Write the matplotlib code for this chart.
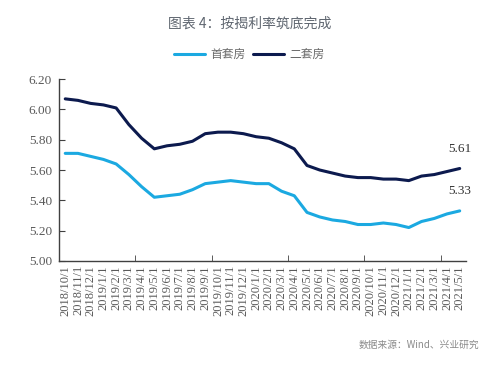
import numpy as np
from matplotlib import pyplot as plt

plt.rcParams['font.family'] = ['Liberation Serif', 'Noto Sans CJK SC', 'DejaVu Sans']

DATES = ["2018/10/1", "2018/11/1", "2018/12/1",
         "2019/1/1", "2019/2/1", "2019/3/1", "2019/4/1", "2019/5/1", "2019/6/1",
         "2019/7/1", "2019/8/1", "2019/9/1", "2019/10/1", "2019/11/1", "2019/12/1",
         "2020/1/1", "2020/2/1", "2020/3/1", "2020/4/1", "2020/5/1", "2020/6/1",
         "2020/7/1", "2020/8/1", "2020/9/1", "2020/10/1", "2020/11/1", "2020/12/1",
         "2021/1/1", "2021/2/1", "2021/3/1", "2021/4/1", "2021/5/1"]

# 首套房
first_home = [5.71, 5.71, 5.69, 5.67, 5.64, 5.57, 5.49, 5.42, 5.43,
              5.44, 5.47, 5.51, 5.52, 5.53, 5.52,
              5.51, 5.51, 5.46, 5.43, 5.32, 5.29,
              5.27, 5.26, 5.24, 5.24, 5.25, 5.24,
              5.22, 5.26, 5.28, 5.31, 5.33]

# 二套房
second_home = [6.07, 6.06, 6.04, 6.03, 6.01, 5.90, 5.81, 5.74, 5.76,
               5.77, 5.79, 5.84, 5.85, 5.85, 5.84,
               5.82, 5.81, 5.78, 5.74, 5.63, 5.60,
               5.58, 5.56, 5.55, 5.55, 5.54, 5.54,
               5.53, 5.56, 5.57, 5.59, 5.61]

LIGHT = "#1ba9e1"
DARK = "#0c1a4e"
GRAY = "#595959"

fig = plt.figure(figsize=(4.99, 3.70), dpi=100)
ax = fig.add_axes([0.118, 0.295, 0.816, 0.491])

x = np.arange(len(DATES))
l1, = ax.plot(x, first_home, color=LIGHT, lw=2.2, solid_capstyle="round")
l2, = ax.plot(x, second_home, color=DARK, lw=2.2, solid_capstyle="round")

ax.set_xlim(-0.5, len(DATES) - 0.5)
ax.set_ylim(5.0, 6.2)
ax.set_yticks(np.arange(5.0, 6.21, 0.2))
ax.set_yticklabels(["%.2f" % v for v in np.arange(5.0, 6.21, 0.2)])

ax.set_xticks(x)
ax.set_xticklabels(DATES, rotation=90)
ax.set_xticks(np.arange(5.5, len(DATES) - 1, 6), minor=True)
ax.tick_params(axis="x", which="major", length=0, pad=3, labelsize=9, labelcolor=GRAY)
ax.tick_params(axis="x", which="minor", direction="in", length=4, color="#404040")
ax.tick_params(axis="y", direction="in", length=4, color="#404040", labelsize=9.5,
               labelcolor=GRAY, pad=5)

for s in ["top", "right"]:
    ax.spines[s].set_visible(False)
for s in ["left", "bottom"]:
    ax.spines[s].set_color("#404040")
    ax.spines[s].set_linewidth(1.0)

ax.annotate("%.2f" % second_home[-1], (x[-1], second_home[-1]), xytext=(0, 10),
            textcoords="offset points", ha="center", va="bottom", fontsize=9.5, color="#333333")
ax.annotate("%.2f" % first_home[-1], (x[-1], first_home[-1]), xytext=(0, 10),
            textcoords="offset points", ha="center", va="bottom", fontsize=9.5, color="#333333")

fig.text(0.5, 0.935, "图表 4：按揭利率筑底完成", ha="center", va="center", fontsize=10,
         color="#5f6670", family=["Noto Sans CJK SC", "DejaVu Sans"])

fig.legend([l1, l2], ["首套房", "二套房"], loc="center", bbox_to_anchor=(0.5, 0.852),
           ncol=2, frameon=False, handlelength=2.6, handletextpad=0.5,
           columnspacing=0.6, labelcolor="#6a6a6a",
           prop={"family": ["Noto Sans CJK SC"], "size": 8.5})

fig.text(0.96, 0.068, "数据来源：Wind、兴业研究", ha="right", va="center", fontsize=7,
         color="#8a8a8a", family=["Noto Sans CJK SC", "DejaVu Sans"])

plt.savefig("out.png", dpi=100)
